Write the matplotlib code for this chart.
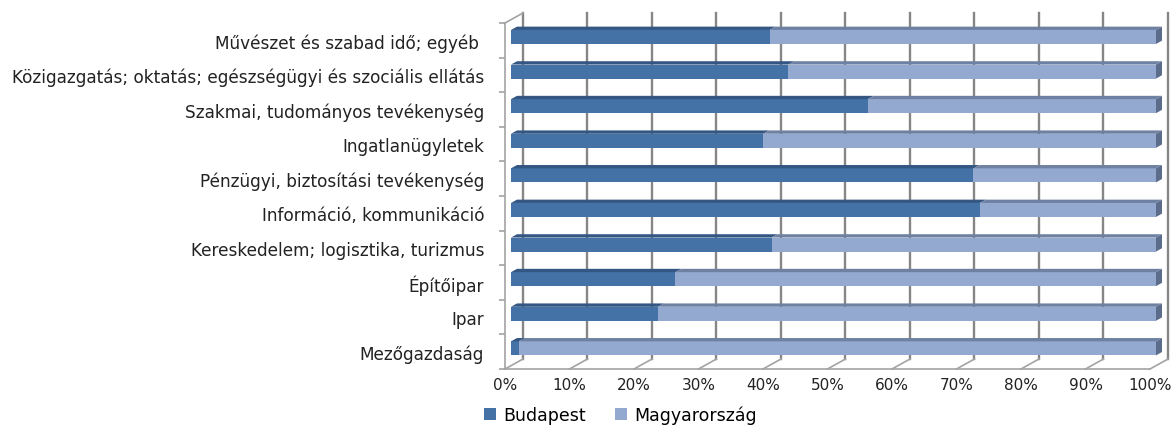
import matplotlib
matplotlib.use("Agg")
import matplotlib.pyplot as plt
from matplotlib.patches import Polygon, Patch
from matplotlib.lines import Line2D
import numpy as np

# Sectors, bottom to top
categories = [
    "Mezőgazdaság",
    "Ipar",
    "Építőipar",
    "Kereskedelem; logisztika, turizmus",
    "Információ, kommunikáció",
    "Pénzügyi, biztosítási tevékenység",
    "Ingatlanügyletek",
    "Szakmai, tudományos tevékenység",
    "Közigazgatás; oktatás; egészségügyi és szociális ellátás",
    "Művészet és szabad idő; egyéb ",
]
budapest = [1.2, 22.8, 25.5, 40.4, 72.7, 71.7, 39.1, 55.3, 43.0, 40.1]
magyarorszag = [98.8, 77.2, 74.5, 59.6, 27.3, 28.3, 60.9, 44.7, 57.0, 59.9]
series_names = ["Budapest", "Magyarország"]
x_ticks = [0, 10, 20, 30, 40, 50, 60, 70, 80, 90, 100]
x_ticklabels = [f"{t}%" for t in x_ticks]

FONT = "DejaVu Sans"
plt.rcParams["font.family"] = [FONT]

W, H = 1171, 427
fig = plt.figure(figsize=(W / 100, H / 100), dpi=100)
ax = fig.add_axes([505 / W, (H - 370) / H, 645 / W, 346 / H])
ax.set_xlim(0, 100)
ax.set_ylim(0, len(categories))

# depth of the 3-D box in data units
DX, DY = 2.79, 0.289
grid_c = "#868686"
wall_c = "#a3a3a3"

# back wall gridlines and floor ticks
for t in x_ticks:
    ax.add_line(Line2D([t + DX, t + DX], [DY, len(categories) + DY], color=grid_c,
                       lw=1.7, clip_on=False, zorder=1))
    ax.add_line(Line2D([t, t + DX], [0, DY], color=wall_c, lw=1.2,
                       clip_on=False, zorder=1))
# left wall top edge
ax.add_line(Line2D([0, DX], [len(categories), len(categories) + DY], color=wall_c,
                   lw=1.2, clip_on=False, zorder=1))

# bars
bar_h = 0.405
f_dx, f_dy = DX / 3, DY / 3
b_dx, b_dy = 2 * DX / 3, 2 * DY / 3
colors = {
    "Budapest": ("#4471a6", "#335683", "#2f4f78"),
    "Magyarország": ("#94a9d0", "#6e81a2", "#5c6d8c"),
}
for i in range(len(categories)):
    total = budapest[i] + magyarorszag[i]
    vals = [budapest[i] / total * 100, magyarorszag[i] / total * 100]
    left = 0.0
    yc = i + 0.5
    y0, y1 = yc - bar_h / 2 + f_dy, yc + bar_h / 2 + f_dy
    for name, v in zip(series_names, vals):
        front, top, side = colors[name]
        x0, x1 = left + f_dx, left + v + f_dx
        ax.add_patch(Polygon([[x0, y0], [x1, y0], [x1, y1], [x0, y1]], closed=True,
                             facecolor=front, edgecolor="none", clip_on=False, zorder=3))
        ax.add_patch(Polygon([[x0, y1], [x1, y1],
                              [left + v + b_dx, y1 + (b_dy - f_dy)],
                              [left + b_dx, y1 + (b_dy - f_dy)]], closed=True,
                             facecolor=top, edgecolor="none", clip_on=False, zorder=3))
        left += v
    # right end cap
    ax.add_patch(Polygon([[left + f_dx, y0], [left + b_dx, y0 + (b_dy - f_dy)],
                          [left + b_dx, y1 + (b_dy - f_dy)], [left + f_dx, y1]],
                         closed=True, facecolor=colors["Magyarország"][2],
                         edgecolor="none", clip_on=False, zorder=3))

# axes frame: left wall and front floor edge
for s in ["top", "right"]:
    ax.spines[s].set_visible(False)
for s in ["left", "bottom"]:
    ax.spines[s].set_color(wall_c)
    ax.spines[s].set_linewidth(1.2)
ax.set_facecolor("none")

ax.set_xticks(x_ticks)
ax.set_xticklabels(x_ticklabels, fontsize=11, color="#222222")
ax.tick_params(axis="x", length=0, pad=6)
ax.set_yticks(np.arange(len(categories)) + 0.5)
ax.set_yticklabels(categories, fontsize=12.2, color="#222222")
ax.set_yticks(np.arange(len(categories) + 1), minor=True)
ax.tick_params(axis="y", which="major", length=0, pad=15)
ax.tick_params(axis="y", which="minor", length=4, color=wall_c, width=1.2)

handles = [Patch(facecolor=colors[n][0], edgecolor="none") for n in series_names]
fig.legend(handles, series_names, loc="lower left", bbox_to_anchor=(482 / W, 0.0),
           ncol=2, frameon=False, fontsize=12.5, handlelength=0.7, handleheight=0.7,
           handletextpad=0.4, columnspacing=1.7, borderaxespad=0, borderpad=0.1)

fig.savefig("out.png", dpi=100, facecolor="white")
